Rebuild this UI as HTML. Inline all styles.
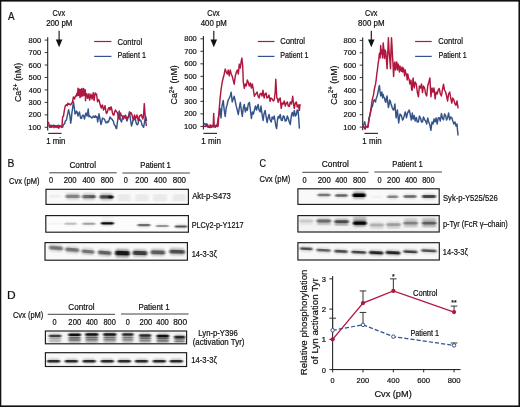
<!DOCTYPE html>
<html><head><meta charset="utf-8"><style>
html,body{margin:0;padding:0;background:#fff;}
svg{display:block;font-family:"Liberation Sans", sans-serif;will-change:transform;}
text{stroke:#111;stroke-width:0.2px;}
</style></head><body>
<svg width="520" height="407" viewBox="0 0 520 407">
<defs><filter id="bl" x="-50%" y="-100%" width="200%" height="300%"><feGaussianBlur stdDeviation="0.8 0.55"/></filter><filter id="bl2" x="-50%" y="-100%" width="200%" height="300%"><feGaussianBlur stdDeviation="1.0 0.9"/></filter></defs>
<rect width="520" height="407" fill="#fff"/>
<rect x="0" y="0" width="520" height="1.6" fill="#111"/>
<rect x="0" y="0" width="1.3" height="407" fill="#111"/>
<rect x="518.45" y="0" width="1.55" height="407" fill="#111"/>
<rect x="0" y="405.4" width="520" height="1.6" fill="#111"/>
<text x="7.93" y="19.60" font-size="10.6" textLength="6.54" lengthAdjust="spacingAndGlyphs" fill="#111">A</text>
<text x="7.40" y="167.10" font-size="10.6" textLength="6.89" lengthAdjust="spacingAndGlyphs" fill="#111">B</text>
<text x="259.39" y="166.90" font-size="10.6" textLength="6.50" lengthAdjust="spacingAndGlyphs" fill="#111">C</text>
<text x="7.07" y="298.70" font-size="10.6" textLength="8.66" lengthAdjust="spacingAndGlyphs" fill="#111">D</text>
<line x1="47.7" y1="37.300000000000004" x2="47.7" y2="130.5" stroke="#222" stroke-width="1.1"/>
<line x1="44.7" y1="40.10" x2="47.7" y2="40.10" stroke="#222" stroke-width="0.9"/>
<text x="28.57" y="42.70" font-size="8.0" textLength="12.52" lengthAdjust="spacingAndGlyphs" fill="#111">800</text>
<line x1="44.7" y1="52.56" x2="47.7" y2="52.56" stroke="#222" stroke-width="0.9"/>
<text x="28.51" y="55.16" font-size="8.0" textLength="12.58" lengthAdjust="spacingAndGlyphs" fill="#111">700</text>
<line x1="44.7" y1="65.01" x2="47.7" y2="65.01" stroke="#222" stroke-width="0.9"/>
<text x="28.52" y="67.61" font-size="8.0" textLength="12.58" lengthAdjust="spacingAndGlyphs" fill="#111">600</text>
<line x1="44.7" y1="77.47" x2="47.7" y2="77.47" stroke="#222" stroke-width="0.9"/>
<text x="28.60" y="80.07" font-size="8.0" textLength="12.49" lengthAdjust="spacingAndGlyphs" fill="#111">500</text>
<line x1="44.7" y1="89.93" x2="47.7" y2="89.93" stroke="#222" stroke-width="0.9"/>
<text x="28.73" y="92.53" font-size="8.0" textLength="12.36" lengthAdjust="spacingAndGlyphs" fill="#111">400</text>
<line x1="44.7" y1="102.39" x2="47.7" y2="102.39" stroke="#222" stroke-width="0.9"/>
<text x="28.62" y="104.99" font-size="8.0" textLength="12.48" lengthAdjust="spacingAndGlyphs" fill="#111">300</text>
<line x1="44.7" y1="114.84" x2="47.7" y2="114.84" stroke="#222" stroke-width="0.9"/>
<text x="28.52" y="117.44" font-size="8.0" textLength="12.57" lengthAdjust="spacingAndGlyphs" fill="#111">200</text>
<line x1="44.7" y1="127.30" x2="47.7" y2="127.30" stroke="#222" stroke-width="0.9"/>
<text x="28.32" y="129.90" font-size="8.0" textLength="12.78" lengthAdjust="spacingAndGlyphs" fill="#111">100</text>
<text transform="translate(21.20,102.10) rotate(-90)" font-size="8.9" fill="#111">Ca<tspan font-size="6.3" dy="-3.3">2+</tspan><tspan dy="3.3"> (nM)</tspan></text>
<line x1="59.1" y1="30.8" x2="59.1" y2="42" stroke="#111" stroke-width="1.1"/>
<path d="M55.800000000000004,39.6 L62.4,39.6 L59.1,47.2 Z" fill="#111"/>
<text x="52.58" y="16.10" font-size="8.2" textLength="12.44" lengthAdjust="spacingAndGlyphs" fill="#111">Cvx</text>
<text x="46.16" y="26.30" font-size="8.2" textLength="26.14" lengthAdjust="spacingAndGlyphs" fill="#111">200 pM</text>
<line x1="48.2" y1="133.4" x2="61.5" y2="133.4" stroke="#333" stroke-width="1.2"/>
<text x="46.15" y="143.80" font-size="8.2" textLength="19.31" lengthAdjust="spacingAndGlyphs" fill="#111">1 min</text>
<line x1="94.2" y1="41.5" x2="111.4" y2="41.5" stroke="#b0173f" stroke-width="1.2"/>
<line x1="94.2" y1="56.4" x2="111.4" y2="56.4" stroke="#34538a" stroke-width="1.2"/>
<text x="117.56" y="45.30" font-size="8.2" textLength="24.70" lengthAdjust="spacingAndGlyphs" fill="#111">Control</text>
<text x="117.46" y="58.20" font-size="8.2" textLength="28.44" lengthAdjust="spacingAndGlyphs" fill="#111">Patient 1</text>
<path d="M48.40,126.00 L49.02,125.81 L49.64,126.67 L50.25,126.98 L50.87,124.97 L51.49,126.91 L52.11,125.72 L52.73,125.95 L53.35,125.08 L53.96,126.52 L54.58,125.46 L55.20,126.96 L55.82,125.42 L56.44,126.16 L57.05,125.74 L57.67,126.29 L58.29,125.21 L58.91,125.17 L59.53,126.64 L60.15,126.66 L60.76,126.17 L61.38,127.09 L62.00,126.00 L62.60,127.30 L63.30,124.89 L64.00,124.00 L64.67,123.75 L65.33,120.81 L66.00,120.50 L66.60,119.46 L67.20,116.00 L67.90,113.17 L68.60,109.70 L69.20,112.63 L69.80,115.00 L70.70,123.20 L71.35,118.82 L72.00,112.00 L72.70,107.55 L73.40,101.60 L74.20,107.00 L75.00,114.00 L75.75,113.25 L76.50,111.00 L77.25,112.34 L78.00,116.00 L78.75,113.66 L79.50,112.00 L80.50,118.00 L81.50,118.50 L82.25,115.67 L83.00,115.00 L83.75,116.20 L84.50,119.00 L85.25,115.26 L86.00,113.00 L87.00,116.00 L87.60,113.43 L88.20,109.00 L88.90,116.80 L89.52,115.83 L90.15,116.27 L90.77,116.78 L91.39,117.71 L92.02,118.01 L92.64,117.34 L93.26,116.06 L93.88,116.92 L94.51,117.34 L95.13,115.63 L95.75,117.27 L96.38,116.46 L97.00,116.80 L97.70,121.90 L98.35,118.08 L99.00,113.80 L100.00,119.00 L101.00,124.60 L101.75,121.74 L102.50,118.00 L103.17,118.84 L103.83,118.86 L104.50,119.20 L105.25,121.24 L106.00,123.00 L106.62,121.94 L107.25,122.44 L107.88,121.20 L108.50,121.90 L109.25,119.40 L110.00,117.00 L110.67,117.76 L111.33,119.05 L112.00,119.00 L112.67,120.39 L113.33,121.08 L114.00,124.00 L114.65,125.22 L115.30,125.53 L115.95,128.08 L116.60,128.60 L117.30,123.01 L118.00,118.00 L118.65,114.19 L119.30,111.00 L119.90,116.56 L120.50,120.00 L121.50,122.00 L122.25,118.72 L123.00,116.00 L123.67,115.94 L124.33,116.27 L125.00,117.00 L125.67,118.28 L126.33,118.61 L127.00,121.00 L127.62,118.82 L128.25,117.50 L128.88,114.26 L129.50,111.80 L130.50,120.00 L131.50,126.00 L132.25,123.63 L133.00,120.00 L133.67,120.16 L134.33,118.89 L135.00,117.00 L135.75,121.13 L136.50,124.00 L137.25,124.81 L138.00,124.00 L139.00,119.00 L139.75,120.33 L140.50,120.00 L141.25,121.86 L142.00,125.00 L142.80,126.10 L143.60,127.30 L144.30,123.29 L145.00,119.48 L145.70,116.50 L146.60,121.00" fill="none" stroke="#34538a" stroke-width="1.45" stroke-linejoin="round"/>
<path d="M48.40,121.90 L49.05,124.66 L49.70,127.00 L50.31,126.45 L50.92,127.36 L51.53,127.25 L52.14,125.81 L52.75,126.83 L53.36,126.67 L53.97,127.62 L54.58,125.76 L55.19,126.01 L55.80,127.04 L56.41,126.71 L57.02,127.50 L57.63,126.50 L58.24,126.09 L58.85,128.30 L59.46,126.23 L60.07,125.94 L60.68,126.34 L61.29,126.52 L61.90,127.00 L62.60,117.20 L63.50,116.00 L64.40,110.03 L65.30,105.70 L65.90,105.21 L66.50,104.50 L67.20,105.74 L67.90,103.24 L68.60,104.30 L69.30,103.87 L70.00,104.45 L70.70,104.93 L71.40,103.60 L72.50,102.00 L73.40,96.90 L74.50,99.00 L75.50,96.00 L76.15,96.25 L76.80,93.50 L77.50,95.48 L78.05,88.16 L78.80,95.51 L79.46,89.22 L79.97,97.62 L80.45,89.51 L81.16,96.62 L81.91,88.37 L82.87,96.14 L83.65,88.50 L84.23,95.20 L85.20,89.82 L85.50,100.71 L86.57,93.43 L87.18,94.84 L87.79,98.38 L88.95,93.69 L89.63,100.08 L90.30,97.22 L90.97,94.14 L92.07,99.11 L93.27,92.75 L94.04,100.54 L95.17,92.86 L95.83,94.57 L96.50,94.00 L97.50,101.70 L98.25,99.51 L99.00,100.00 L100.00,104.00 L100.65,106.26 L101.30,108.00 L101.90,105.52 L102.50,105.00 L103.50,110.00 L104.25,108.65 L105.00,105.70 L106.00,112.00 L106.60,113.51 L107.20,112.40 L107.85,110.31 L108.50,108.00 L109.25,107.53 L110.00,110.00 L110.60,107.19 L111.20,107.00 L111.85,109.75 L112.50,113.00 L113.20,115.04 L113.90,115.00 L114.70,111.71 L115.50,110.00 L116.40,111.71 L117.30,112.40 L117.90,114.92 L118.50,118.00 L119.30,119.20 L119.90,115.40 L120.50,113.00 L121.25,115.11 L122.00,116.00 L122.75,116.92 L123.50,119.00 L124.13,117.32 L124.77,117.20 L125.40,115.10 L126.20,117.04 L127.00,119.00 L128.00,117.00 L128.75,116.35 L129.50,114.00 L130.17,113.85 L130.83,112.58 L131.50,113.40 L132.25,116.03 L133.00,119.00 L133.75,118.12 L134.50,115.00 L135.50,118.80 L136.25,117.09 L137.00,115.00 L138.20,120.50 L138.80,120.39 L139.40,116.00 L140.00,116.00 L140.80,114.92 L141.60,114.80 L142.20,117.71 L142.80,119.00 L143.50,116.00 L144.30,103.60 L145.30,118.00 L146.40,126.00" fill="none" stroke="#b0173f" stroke-width="1.45" stroke-linejoin="round"/>
<line x1="203.4" y1="36.0" x2="203.4" y2="129.6" stroke="#222" stroke-width="1.1"/>
<line x1="200.4" y1="38.80" x2="203.4" y2="38.80" stroke="#222" stroke-width="0.9"/>
<text x="184.27" y="41.40" font-size="8.0" textLength="12.52" lengthAdjust="spacingAndGlyphs" fill="#111">800</text>
<line x1="200.4" y1="51.31" x2="203.4" y2="51.31" stroke="#222" stroke-width="0.9"/>
<text x="184.21" y="53.91" font-size="8.0" textLength="12.58" lengthAdjust="spacingAndGlyphs" fill="#111">700</text>
<line x1="200.4" y1="63.83" x2="203.4" y2="63.83" stroke="#222" stroke-width="0.9"/>
<text x="184.22" y="66.43" font-size="8.0" textLength="12.58" lengthAdjust="spacingAndGlyphs" fill="#111">600</text>
<line x1="200.4" y1="76.34" x2="203.4" y2="76.34" stroke="#222" stroke-width="0.9"/>
<text x="184.30" y="78.94" font-size="8.0" textLength="12.49" lengthAdjust="spacingAndGlyphs" fill="#111">500</text>
<line x1="200.4" y1="88.86" x2="203.4" y2="88.86" stroke="#222" stroke-width="0.9"/>
<text x="184.43" y="91.46" font-size="8.0" textLength="12.36" lengthAdjust="spacingAndGlyphs" fill="#111">400</text>
<line x1="200.4" y1="101.37" x2="203.4" y2="101.37" stroke="#222" stroke-width="0.9"/>
<text x="184.32" y="103.97" font-size="8.0" textLength="12.48" lengthAdjust="spacingAndGlyphs" fill="#111">300</text>
<line x1="200.4" y1="113.89" x2="203.4" y2="113.89" stroke="#222" stroke-width="0.9"/>
<text x="184.22" y="116.49" font-size="8.0" textLength="12.57" lengthAdjust="spacingAndGlyphs" fill="#111">200</text>
<line x1="200.4" y1="126.40" x2="203.4" y2="126.40" stroke="#222" stroke-width="0.9"/>
<text x="184.02" y="129.00" font-size="8.0" textLength="12.78" lengthAdjust="spacingAndGlyphs" fill="#111">100</text>
<text transform="translate(177.20,104.50) rotate(-90)" font-size="8.9" fill="#111">Ca<tspan font-size="6.3" dy="-3.3">2+</tspan><tspan dy="3.3"> (nM)</tspan></text>
<line x1="213.8" y1="30.8" x2="213.8" y2="42" stroke="#111" stroke-width="1.1"/>
<path d="M210.5,39.6 L217.10000000000002,39.6 L213.8,47.2 Z" fill="#111"/>
<text x="207.28" y="16.20" font-size="8.2" textLength="12.44" lengthAdjust="spacingAndGlyphs" fill="#111">Cvx</text>
<text x="200.77" y="26.10" font-size="8.2" textLength="26.12" lengthAdjust="spacingAndGlyphs" fill="#111">400 pM</text>
<line x1="203.4" y1="133.4" x2="217" y2="133.4" stroke="#333" stroke-width="1.2"/>
<text x="201.24" y="143.80" font-size="8.2" textLength="19.74" lengthAdjust="spacingAndGlyphs" fill="#111">1 min</text>
<line x1="257.8" y1="41.5" x2="274.5" y2="41.5" stroke="#b0173f" stroke-width="1.2"/>
<line x1="257.8" y1="56.4" x2="274.5" y2="56.4" stroke="#34538a" stroke-width="1.2"/>
<text x="280.26" y="44.20" font-size="8.2" textLength="24.81" lengthAdjust="spacingAndGlyphs" fill="#111">Control</text>
<text x="280.37" y="58.20" font-size="8.2" textLength="28.13" lengthAdjust="spacingAndGlyphs" fill="#111">Patient 1</text>
<path d="M203.50,124.50 L204.50,123.50 L205.50,125.00 L206.50,123.80 L207.50,124.60 L208.00,126.50 L208.60,126.98 L209.20,126.66 L209.80,126.93 L210.40,127.48 L211.00,126.98 L211.60,126.62 L212.20,126.66 L212.80,126.93 L213.40,126.04 L214.00,126.94 L214.60,126.80 L215.20,127.24 L215.80,126.45 L216.40,125.27 L217.00,126.50 L218.10,118.50 L219.10,114.00 L220.10,108.40 L221.00,118.00 L222.00,106.00 L223.20,100.40 L224.20,110.00 L225.20,116.50 L226.20,108.00 L227.20,104.40 L228.20,100.00 L229.20,98.30 L230.20,96.00 L231.20,92.30 L232.20,102.00 L233.20,99.00 L234.20,96.30 L235.20,101.00 L236.30,106.40 L237.30,110.00 L238.30,114.50 L239.30,108.00 L240.30,102.40 L241.30,110.00 L242.30,116.50 L243.30,108.00 L244.30,104.40 L245.30,112.00 L246.30,108.00 L247.30,110.40 L248.30,104.00 L249.40,102.40 L250.40,110.00 L251.40,118.50 L252.40,112.00 L253.40,114.00 L254.40,110.00 L255.50,106.00 L256.50,110.00 L257.30,107.30 L258.10,104.40 L259.00,110.00 L260.10,112.00 L261.00,106.00 L262.00,114.00 L263.10,120.50 L264.00,114.00 L265.10,110.40 L266.00,116.00 L267.10,122.50 L268.00,118.00 L269.10,114.50 L270.10,120.00 L271.20,122.00 L272.20,117.00 L273.20,119.00 L274.20,116.00 L275.20,122.00 L275.90,126.23 L276.60,128.60 L277.50,120.00 L278.20,116.50 L279.20,118.00 L280.20,114.50 L281.20,120.00 L282.20,120.50 L283.20,116.00 L284.20,116.50 L285.20,121.00 L286.30,120.50 L287.30,116.00 L288.30,118.50 L289.30,122.00 L290.30,124.50 L291.30,116.00 L292.30,112.40 L293.30,116.00 L294.30,110.40 L295.30,116.00 L296.30,114.50 L297.20,110.00 L298.00,110.40 L298.70,118.00 L299.40,128.60" fill="none" stroke="#34538a" stroke-width="1.45" stroke-linejoin="round"/>
<path d="M204.00,126.10 L204.61,126.52 L205.23,126.53 L205.84,125.77 L206.45,125.67 L207.07,126.76 L207.68,124.83 L208.29,127.20 L208.91,127.23 L209.52,127.49 L210.13,125.01 L210.75,124.95 L211.36,127.28 L211.97,125.80 L212.59,125.41 L213.20,126.10 L213.70,113.50 L214.20,126.10 L214.85,125.75 L215.50,126.58 L216.15,125.08 L216.80,126.06 L217.45,126.58 L218.10,126.10 L219.10,110.40 L220.10,98.30 L221.00,90.00 L222.20,82.20 L223.20,78.00 L224.20,74.20 L225.20,69.10 L226.20,72.00 L227.20,74.00 L228.20,70.10 L229.20,76.00 L230.20,70.00 L231.20,74.00 L232.20,76.20 L233.20,80.00 L234.20,84.20 L235.30,76.00 L236.30,72.20 L237.30,70.00 L238.30,74.00 L239.30,64.10 L240.30,68.00 L241.10,62.00 L241.90,58.10 L242.70,66.00 L243.30,82.20 L244.30,88.30 L245.30,84.00 L246.30,86.00 L247.30,80.00 L248.30,82.20 L249.30,86.00 L250.40,83.00 L251.40,88.00 L252.40,84.00 L253.40,90.00 L254.40,96.30 L255.50,94.00 L256.25,93.66 L257.00,92.00 L258.00,96.00 L259.00,98.00 L260.00,94.00 L261.00,93.30 L262.00,96.00 L263.00,90.30 L264.10,98.00 L265.00,94.00 L266.10,93.00 L267.00,98.00 L268.10,97.30 L269.00,95.00 L270.10,101.40 L271.00,98.00 L272.20,99.00 L273.20,101.00 L274.20,100.00 L275.20,92.00 L275.80,79.20 L276.80,98.00 L277.50,98.74 L278.20,102.40 L279.20,99.00 L280.20,98.00 L281.20,108.40 L282.20,103.00 L283.20,104.00 L284.20,101.00 L285.30,106.00 L286.30,103.00 L287.30,102.00 L288.30,106.00 L289.30,106.40 L290.30,102.00 L291.30,104.00 L292.00,101.08 L292.70,96.30 L293.50,104.00 L294.30,108.40 L295.30,103.00 L296.30,102.00 L297.30,107.00 L298.30,105.00 L299.40,110.40 L300.00,104.00" fill="none" stroke="#b0173f" stroke-width="1.45" stroke-linejoin="round"/>
<line x1="362.7" y1="37.6" x2="362.7" y2="130.29999999999998" stroke="#222" stroke-width="1.1"/>
<line x1="359.7" y1="40.40" x2="362.7" y2="40.40" stroke="#222" stroke-width="0.9"/>
<text x="343.57" y="43.00" font-size="8.0" textLength="12.52" lengthAdjust="spacingAndGlyphs" fill="#111">800</text>
<line x1="359.7" y1="52.79" x2="362.7" y2="52.79" stroke="#222" stroke-width="0.9"/>
<text x="343.51" y="55.39" font-size="8.0" textLength="12.58" lengthAdjust="spacingAndGlyphs" fill="#111">700</text>
<line x1="359.7" y1="65.17" x2="362.7" y2="65.17" stroke="#222" stroke-width="0.9"/>
<text x="343.52" y="67.77" font-size="8.0" textLength="12.58" lengthAdjust="spacingAndGlyphs" fill="#111">600</text>
<line x1="359.7" y1="77.56" x2="362.7" y2="77.56" stroke="#222" stroke-width="0.9"/>
<text x="343.60" y="80.16" font-size="8.0" textLength="12.49" lengthAdjust="spacingAndGlyphs" fill="#111">500</text>
<line x1="359.7" y1="89.94" x2="362.7" y2="89.94" stroke="#222" stroke-width="0.9"/>
<text x="343.73" y="92.54" font-size="8.0" textLength="12.36" lengthAdjust="spacingAndGlyphs" fill="#111">400</text>
<line x1="359.7" y1="102.33" x2="362.7" y2="102.33" stroke="#222" stroke-width="0.9"/>
<text x="343.62" y="104.93" font-size="8.0" textLength="12.48" lengthAdjust="spacingAndGlyphs" fill="#111">300</text>
<line x1="359.7" y1="114.71" x2="362.7" y2="114.71" stroke="#222" stroke-width="0.9"/>
<text x="343.52" y="117.31" font-size="8.0" textLength="12.57" lengthAdjust="spacingAndGlyphs" fill="#111">200</text>
<line x1="359.7" y1="127.10" x2="362.7" y2="127.10" stroke="#222" stroke-width="0.9"/>
<text x="343.32" y="129.70" font-size="8.0" textLength="12.78" lengthAdjust="spacingAndGlyphs" fill="#111">100</text>
<text transform="translate(336.60,104.70) rotate(-90)" font-size="8.9" fill="#111">Ca<tspan font-size="6.3" dy="-3.3">2+</tspan><tspan dy="3.3"> (nM)</tspan></text>
<line x1="371.3" y1="30.8" x2="371.3" y2="42" stroke="#111" stroke-width="1.1"/>
<path d="M368.0,39.6 L374.6,39.6 L371.3,47.2 Z" fill="#111"/>
<text x="364.99" y="16.10" font-size="8.2" textLength="12.34" lengthAdjust="spacingAndGlyphs" fill="#111">Cvx</text>
<text x="358.11" y="26.10" font-size="8.2" textLength="26.39" lengthAdjust="spacingAndGlyphs" fill="#111">800 pM</text>
<line x1="364.4" y1="133.4" x2="378" y2="133.4" stroke="#333" stroke-width="1.2"/>
<text x="362.35" y="143.80" font-size="8.2" textLength="19.21" lengthAdjust="spacingAndGlyphs" fill="#111">1 min</text>
<line x1="415.1" y1="41.5" x2="431.7" y2="41.5" stroke="#b0173f" stroke-width="1.2"/>
<line x1="415.1" y1="56.4" x2="431.7" y2="56.4" stroke="#34538a" stroke-width="1.2"/>
<text x="438.36" y="44.00" font-size="8.2" textLength="24.60" lengthAdjust="spacingAndGlyphs" fill="#111">Control</text>
<text x="438.47" y="58.20" font-size="8.2" textLength="28.13" lengthAdjust="spacingAndGlyphs" fill="#111">Patient 1</text>
<path d="M362.70,126.80 L363.90,124.00 L364.60,121.70 L365.20,124.00 L366.00,126.80 L366.67,126.63 L367.33,126.63 L368.00,126.80 L369.00,117.80 L369.65,116.06 L370.30,114.00 L370.95,110.18 L371.60,107.50 L372.25,106.76 L372.90,104.00 L373.55,101.10 L374.20,99.70 L374.85,100.96 L375.50,102.00 L376.15,98.69 L376.80,97.10 L377.45,94.85 L378.10,92.00 L378.80,88.00 L379.40,85.50 L380.10,92.00 L380.70,96.00 L381.90,92.00 L382.60,98.00 L383.20,94.50 L383.85,97.29 L384.50,98.00 L385.15,101.14 L385.80,102.30 L386.45,98.20 L387.10,96.00 L387.75,102.07 L388.40,107.50 L389.05,104.77 L389.70,100.00 L390.35,101.22 L391.00,104.00 L391.65,105.78 L392.30,108.00 L392.95,109.55 L393.60,110.00 L394.25,107.62 L394.90,104.00 L395.50,110.77 L396.10,117.80 L396.75,114.26 L397.40,110.00 L398.05,116.94 L398.70,123.00 L399.35,118.12 L400.00,114.00 L400.65,115.00 L401.30,115.20 L401.95,117.80 L402.60,120.00 L403.25,119.01 L403.90,117.00 L404.55,114.53 L405.20,112.00 L405.85,114.47 L406.50,117.80 L407.15,114.73 L407.80,112.00 L408.45,112.10 L409.10,110.00 L409.75,111.99 L410.40,115.60 L411.40,120.00 L412.30,113.00 L413.20,119.00 L414.20,115.60 L415.20,121.00 L416.30,117.50 L417.30,122.00 L418.40,121.90 L419.40,116.00 L420.50,118.00 L421.50,122.00 L422.50,121.90 L423.50,117.00 L424.60,119.80 L425.60,121.00 L426.70,124.00 L427.70,118.00 L428.80,121.90 L429.90,125.00 L430.90,130.30 L432.00,122.00 L433.00,124.00 L434.00,119.00 L435.10,121.90 L436.10,118.00 L437.20,124.00 L438.20,118.00 L439.30,117.70 L440.30,121.00 L441.40,113.50 L442.40,118.00 L443.50,119.80 L444.50,114.00 L445.60,115.60 L446.60,120.00 L447.60,117.70 L448.60,113.00 L449.70,119.80 L450.70,117.00 L451.80,117.70 L452.80,121.00 L453.90,124.00 L455.00,122.00 L456.00,126.10 L457.00,124.00 L457.50,130.00 L458.10,135.50" fill="none" stroke="#34538a" stroke-width="1.45" stroke-linejoin="round"/>
<path d="M362.70,127.60 L363.32,126.54 L363.95,126.14 L364.57,128.66 L365.20,129.07 L365.82,126.81 L366.45,126.90 L367.07,126.70 L367.70,127.60 L368.35,124.10 L369.00,120.00 L369.65,116.26 L370.30,112.60 L370.95,109.26 L371.60,104.00 L372.25,99.68 L372.90,97.10 L373.55,94.68 L374.20,90.00 L374.85,86.99 L375.50,84.20 L376.15,80.02 L376.80,74.00 L377.45,69.71 L378.10,63.60 L378.75,59.63 L379.40,53.20 L380.10,58.00 L380.70,45.50 L381.30,54.00 L381.90,50.00 L382.60,58.00 L383.20,42.90 L383.90,50.00 L384.50,58.40 L385.10,50.00 L385.80,52.00 L386.40,60.00 L387.10,68.70 L387.80,52.00 L388.40,37.70 L389.00,50.00 L389.70,58.00 L390.50,68.70 L391.00,50.00 L391.50,37.70 L392.00,46.00 L392.50,55.80 L393.00,64.00 L393.60,76.50 L394.30,64.00 L394.90,62.00 L395.50,70.00 L396.10,66.10 L396.80,62.00 L397.50,70.00 L398.10,64.00 L398.70,66.00 L399.40,72.00 L400.00,66.00 L400.70,70.00 L401.30,71.30 L402.00,67.00 L402.60,72.00 L403.30,68.00 L403.90,70.00 L404.60,76.00 L405.20,70.00 L405.90,74.00 L406.50,73.90 L407.20,80.00 L407.80,74.00 L408.50,78.00 L409.10,79.10 L409.80,84.00 L410.40,82.00 L411.00,80.10 L411.60,89.40 L412.10,90.50 L413.10,78.00 L414.20,88.00 L415.20,82.00 L416.30,84.30 L417.30,92.00 L418.40,96.80 L419.40,86.00 L420.50,88.00 L421.50,84.00 L422.50,92.60 L423.50,86.00 L424.60,88.00 L425.60,94.00 L426.70,96.00 L427.70,86.00 L428.80,82.20 L429.90,78.00 L430.90,96.80 L432.00,88.00 L433.00,92.00 L434.00,88.00 L435.10,98.90 L436.10,92.00 L437.20,94.00 L438.20,90.00 L439.30,88.50 L440.30,94.00 L441.40,96.00 L442.40,90.00 L443.50,84.30 L444.50,90.00 L445.60,92.00 L446.60,96.00 L447.60,101.00 L448.60,94.00 L449.70,92.00 L450.70,98.00 L451.80,103.10 L452.80,98.00 L453.90,100.00 L455.00,104.00 L456.00,105.20 L457.00,101.00 L458.10,108.30" fill="none" stroke="#b0173f" stroke-width="1.45" stroke-linejoin="round"/>
<text x="69.43" y="168.00" font-size="8.2" textLength="26.57" lengthAdjust="spacingAndGlyphs" fill="#111">Control</text>
<text x="140.32" y="168.20" font-size="8.2" textLength="30.41" lengthAdjust="spacingAndGlyphs" fill="#111">Patient 1</text>
<line x1="49.3" y1="172.8" x2="116.7" y2="172.8" stroke="#444" stroke-width="1"/>
<line x1="122.4" y1="173.0" x2="189.9" y2="173.0" stroke="#444" stroke-width="1"/>
<text x="9.07" y="183.50" font-size="8.2" textLength="30.34" lengthAdjust="spacingAndGlyphs" fill="#111">Cvx (pM)</text>
<text x="49.00" y="183.30" font-size="8.2" textLength="4.10" lengthAdjust="spacingAndGlyphs" fill="#111">0</text>
<text x="63.66" y="183.30" font-size="8.2" textLength="12.89" lengthAdjust="spacingAndGlyphs" fill="#111">200</text>
<text x="82.38" y="183.30" font-size="8.2" textLength="12.67" lengthAdjust="spacingAndGlyphs" fill="#111">400</text>
<text x="100.72" y="183.30" font-size="8.2" textLength="12.83" lengthAdjust="spacingAndGlyphs" fill="#111">800</text>
<text x="123.80" y="183.30" font-size="8.2" textLength="4.10" lengthAdjust="spacingAndGlyphs" fill="#111">0</text>
<text x="135.36" y="183.30" font-size="8.2" textLength="13.00" lengthAdjust="spacingAndGlyphs" fill="#111">200</text>
<text x="153.87" y="183.30" font-size="8.2" textLength="12.88" lengthAdjust="spacingAndGlyphs" fill="#111">400</text>
<text x="172.70" y="183.30" font-size="8.2" textLength="13.36" lengthAdjust="spacingAndGlyphs" fill="#111">800</text>
<rect x="45.50" y="189.00" width="142.90" height="15.80" fill="#f9f9f9"/>
<rect x="49.30" y="193.80" width="11.40" height="5.00" rx="2.00" fill="#000" opacity="0.009" filter="url(#bl2)"/>
<rect x="49.00" y="195.05" width="12.00" height="2.50" rx="1.25" fill="#000" opacity="0.035" filter="url(#bl)"/>
<rect x="65.75" y="193.00" width="13.90" height="6.80" rx="2.00" fill="#000" opacity="0.162" filter="url(#bl2)"/>
<rect x="65.45" y="194.70" width="14.50" height="3.40" rx="1.50" fill="#000" opacity="0.36" filter="url(#bl)"/>
<rect x="82.45" y="193.20" width="12.90" height="6.80" rx="2.00" fill="#000" opacity="0.203" filter="url(#bl2)"/>
<rect x="82.15" y="194.90" width="13.50" height="3.40" rx="1.50" fill="#000" opacity="0.45" filter="url(#bl)"/>
<rect x="89.50" y="195.40" width="6.00" height="2.60" rx="1.30" fill="#000" opacity="0.2" filter="url(#bl)"/>
<rect x="99.95" y="193.50" width="12.90" height="6.80" rx="2.00" fill="#000" opacity="0.270" filter="url(#bl2)"/>
<rect x="99.65" y="195.20" width="13.50" height="3.40" rx="1.50" fill="#000" opacity="0.6" filter="url(#bl)"/>
<rect x="108.30" y="195.70" width="5.00" height="2.80" rx="1.40" fill="#000" opacity="0.85" filter="url(#bl)"/>
<rect x="117.25" y="194.30" width="13.50" height="7.00" rx="1.50" fill="#000" opacity="0.055" filter="url(#bl)"/>
<rect x="135.25" y="194.30" width="13.50" height="7.00" rx="1.50" fill="#000" opacity="0.055" filter="url(#bl)"/>
<rect x="153.25" y="194.30" width="13.50" height="7.00" rx="1.50" fill="#000" opacity="0.055" filter="url(#bl)"/>
<rect x="172.55" y="194.30" width="13.50" height="7.00" rx="1.50" fill="#000" opacity="0.055" filter="url(#bl)"/>
<rect x="46.00" y="189.30" width="142.40" height="15.10" fill="none" stroke="#1a1a1a" stroke-width="1.15"/>
<rect x="45.50" y="215.40" width="142.90" height="17.10" fill="#fcfcfc"/>
<rect x="49.00" y="222.70" width="12.00" height="2.00" rx="1.00" fill="#000" opacity="0.03" filter="url(#bl)"/>
<rect x="64.55" y="221.70" width="11.90" height="4.00" rx="2.00" fill="#000" opacity="0.050" filter="url(#bl2)"/>
<rect x="64.25" y="222.70" width="12.50" height="2.00" rx="1.00" fill="#000" opacity="0.2" filter="url(#bl)"/>
<rect x="82.70" y="221.70" width="12.40" height="4.00" rx="2.00" fill="#000" opacity="0.075" filter="url(#bl2)"/>
<rect x="82.40" y="222.70" width="13.00" height="2.00" rx="1.00" fill="#000" opacity="0.3" filter="url(#bl)"/>
<rect x="101.20" y="221.10" width="12.40" height="4.40" rx="2.00" fill="#000" opacity="0.237" filter="url(#bl2)"/>
<rect x="100.90" y="222.20" width="13.00" height="2.20" rx="1.10" fill="#000" opacity="0.95" filter="url(#bl)"/>
<rect x="100.90" y="216.75" width="13.00" height="1.50" rx="0.75" fill="#000" opacity="0.05" filter="url(#bl)"/>
<rect x="137.70" y="223.00" width="12.40" height="4.40" rx="2.00" fill="#000" opacity="0.125" filter="url(#bl2)"/>
<rect x="137.40" y="224.10" width="13.00" height="2.20" rx="1.10" fill="#000" opacity="0.5" filter="url(#bl)"/>
<rect x="156.20" y="224.00" width="12.40" height="4.00" rx="2.00" fill="#000" opacity="0.087" filter="url(#bl2)"/>
<rect x="155.90" y="225.00" width="13.00" height="2.00" rx="1.00" fill="#000" opacity="0.35" filter="url(#bl)"/>
<rect x="175.05" y="224.30" width="11.90" height="4.40" rx="2.00" fill="#000" opacity="0.150" filter="url(#bl2)"/>
<rect x="174.75" y="225.40" width="12.50" height="2.20" rx="1.10" fill="#000" opacity="0.6" filter="url(#bl)"/>
<rect x="45.80" y="215.60" width="142.60" height="16.60" fill="none" stroke="#1a1a1a" stroke-width="1.15"/>
<rect x="45.10" y="242.30" width="142.30" height="18.50" fill="#f9f9f9"/>
<rect x="49.30" y="244.60" width="13.40" height="6.80" rx="2.00" fill="#000" opacity="0.189" filter="url(#bl2)" transform="rotate(5 56.00 248.00)"/>
<rect x="49.00" y="246.30" width="14.00" height="3.40" rx="1.50" fill="#000" opacity="0.42" filter="url(#bl)" transform="rotate(5 56.00 248.00)"/>
<rect x="65.50" y="246.40" width="13.40" height="6.80" rx="2.00" fill="#000" opacity="0.189" filter="url(#bl2)" transform="rotate(5 72.20 249.80)"/>
<rect x="65.20" y="248.10" width="14.00" height="3.40" rx="1.50" fill="#000" opacity="0.42" filter="url(#bl)" transform="rotate(5 72.20 249.80)"/>
<rect x="81.80" y="248.20" width="12.40" height="6.80" rx="2.00" fill="#000" opacity="0.189" filter="url(#bl2)" transform="rotate(5 88.00 251.60)"/>
<rect x="81.50" y="249.90" width="13.00" height="3.40" rx="1.50" fill="#000" opacity="0.42" filter="url(#bl)" transform="rotate(5 88.00 251.60)"/>
<rect x="98.25" y="249.40" width="12.90" height="6.80" rx="2.00" fill="#000" opacity="0.225" filter="url(#bl2)" transform="rotate(5 104.70 252.80)"/>
<rect x="97.95" y="251.10" width="13.50" height="3.40" rx="1.50" fill="#000" opacity="0.5" filter="url(#bl)" transform="rotate(5 104.70 252.80)"/>
<rect x="115.45" y="249.00" width="13.90" height="8.40" rx="2.00" fill="#000" opacity="0.383" filter="url(#bl2)" transform="rotate(2 122.40 253.20)"/>
<rect x="115.15" y="251.10" width="14.50" height="4.20" rx="1.50" fill="#000" opacity="0.85" filter="url(#bl)" transform="rotate(2 122.40 253.20)"/>
<rect x="133.05" y="249.20" width="13.90" height="7.60" rx="2.00" fill="#000" opacity="0.293" filter="url(#bl2)" transform="rotate(2 140.00 253.00)"/>
<rect x="132.75" y="251.10" width="14.50" height="3.80" rx="1.50" fill="#000" opacity="0.65" filter="url(#bl)" transform="rotate(2 140.00 253.00)"/>
<rect x="150.95" y="248.80" width="13.90" height="7.20" rx="2.00" fill="#000" opacity="0.234" filter="url(#bl2)" transform="rotate(2 157.90 252.40)"/>
<rect x="150.65" y="250.60" width="14.50" height="3.60" rx="1.50" fill="#000" opacity="0.52" filter="url(#bl)" transform="rotate(2 157.90 252.40)"/>
<rect x="169.75" y="248.10" width="14.90" height="7.20" rx="2.00" fill="#000" opacity="0.261" filter="url(#bl2)" transform="rotate(2 177.20 251.70)"/>
<rect x="169.45" y="249.90" width="15.50" height="3.60" rx="1.50" fill="#000" opacity="0.58" filter="url(#bl)" transform="rotate(2 177.20 251.70)"/>
<rect x="45.00" y="242.60" width="142.40" height="17.60" fill="none" stroke="#1a1a1a" stroke-width="1.15"/>
<text x="192.23" y="198.80" font-size="8.2" textLength="38.55" lengthAdjust="spacingAndGlyphs" fill="#111">Akt-p-S473</text>
<text x="191.65" y="227.90" font-size="8.2" textLength="51.97" lengthAdjust="spacingAndGlyphs" fill="#111">PLC&#947;2-p-Y1217</text>
<text x="191.67" y="256.50" font-size="8.2" textLength="25.22" lengthAdjust="spacingAndGlyphs" fill="#111">14-3-3&#950;</text>
<text x="321.72" y="167.30" font-size="8.2" textLength="27.09" lengthAdjust="spacingAndGlyphs" fill="#111">Control</text>
<text x="392.32" y="167.20" font-size="8.2" textLength="30.41" lengthAdjust="spacingAndGlyphs" fill="#111">Patient 1</text>
<line x1="302.3" y1="172.3" x2="368.5" y2="172.3" stroke="#444" stroke-width="1"/>
<line x1="374.4" y1="172.0" x2="441.9" y2="172.0" stroke="#444" stroke-width="1"/>
<text x="259.46" y="182.30" font-size="8.2" textLength="30.86" lengthAdjust="spacingAndGlyphs" fill="#111">Cvx (pM)</text>
<text x="302.55" y="182.50" font-size="8.2" textLength="4.10" lengthAdjust="spacingAndGlyphs" fill="#111">0</text>
<text x="317.66" y="182.50" font-size="8.2" textLength="13.10" lengthAdjust="spacingAndGlyphs" fill="#111">200</text>
<text x="335.18" y="182.50" font-size="8.2" textLength="12.15" lengthAdjust="spacingAndGlyphs" fill="#111">400</text>
<text x="353.02" y="182.50" font-size="8.2" textLength="12.83" lengthAdjust="spacingAndGlyphs" fill="#111">800</text>
<text x="377.45" y="182.50" font-size="8.2" textLength="4.10" lengthAdjust="spacingAndGlyphs" fill="#111">0</text>
<text x="387.06" y="182.50" font-size="8.2" textLength="13.00" lengthAdjust="spacingAndGlyphs" fill="#111">200</text>
<text x="404.88" y="182.50" font-size="8.2" textLength="12.15" lengthAdjust="spacingAndGlyphs" fill="#111">400</text>
<text x="422.23" y="182.50" font-size="8.2" textLength="12.41" lengthAdjust="spacingAndGlyphs" fill="#111">800</text>
<rect x="297.70" y="188.70" width="141.80" height="16.30" fill="#f9f9f9"/>
<rect x="317.80" y="192.40" width="12.40" height="5.20" rx="2.00" fill="#000" opacity="0.113" filter="url(#bl2)"/>
<rect x="317.50" y="193.70" width="13.00" height="2.60" rx="1.30" fill="#000" opacity="0.45" filter="url(#bl)"/>
<rect x="335.45" y="192.90" width="11.90" height="5.20" rx="2.00" fill="#000" opacity="0.130" filter="url(#bl2)"/>
<rect x="335.15" y="194.20" width="12.50" height="2.60" rx="1.30" fill="#000" opacity="0.52" filter="url(#bl)"/>
<rect x="352.90" y="191.60" width="12.40" height="7.20" rx="2.00" fill="#000" opacity="0.350" filter="url(#bl2)"/>
<rect x="352.60" y="193.40" width="13.00" height="3.60" rx="1.50" fill="#000" opacity="1.0" filter="url(#bl)"/>
<rect x="371.00" y="195.55" width="11.00" height="2.50" rx="1.25" fill="#000" opacity="0.03" filter="url(#bl)"/>
<rect x="387.40" y="194.20" width="10.40" height="5.20" rx="2.00" fill="#000" opacity="0.100" filter="url(#bl2)"/>
<rect x="387.10" y="195.50" width="11.00" height="2.60" rx="1.30" fill="#000" opacity="0.4" filter="url(#bl)"/>
<rect x="403.80" y="193.90" width="12.40" height="5.20" rx="2.00" fill="#000" opacity="0.130" filter="url(#bl2)"/>
<rect x="403.50" y="195.20" width="13.00" height="2.60" rx="1.30" fill="#000" opacity="0.52" filter="url(#bl)"/>
<rect x="422.30" y="193.70" width="13.40" height="5.60" rx="2.00" fill="#000" opacity="0.165" filter="url(#bl2)"/>
<rect x="422.00" y="195.10" width="14.00" height="2.80" rx="1.40" fill="#000" opacity="0.66" filter="url(#bl)"/>
<rect x="297.90" y="188.80" width="141.30" height="15.60" fill="none" stroke="#1a1a1a" stroke-width="1.15"/>
<rect x="297.70" y="215.20" width="141.80" height="17.30" fill="#f3f3f3"/>
<rect x="299.25" y="218.20" width="13.90" height="5.60" rx="2.00" fill="#000" opacity="0.055" filter="url(#bl2)"/>
<rect x="298.95" y="219.60" width="14.50" height="2.80" rx="1.40" fill="#000" opacity="0.1" filter="url(#bl)"/>
<rect x="298.95" y="222.50" width="14.50" height="3.00" rx="1.50" fill="#000" opacity="0.025" filter="url(#bl)"/>
<rect x="316.85" y="218.20" width="13.90" height="5.60" rx="2.00" fill="#000" opacity="0.231" filter="url(#bl2)"/>
<rect x="316.55" y="219.60" width="14.50" height="2.80" rx="1.40" fill="#000" opacity="0.42" filter="url(#bl)"/>
<rect x="316.55" y="222.50" width="14.50" height="3.00" rx="1.50" fill="#000" opacity="0.105" filter="url(#bl)"/>
<rect x="334.65" y="218.80" width="13.90" height="5.60" rx="2.00" fill="#000" opacity="0.303" filter="url(#bl2)"/>
<rect x="334.35" y="220.20" width="14.50" height="2.80" rx="1.40" fill="#000" opacity="0.55" filter="url(#bl)"/>
<rect x="334.35" y="223.10" width="14.50" height="3.00" rx="1.50" fill="#000" opacity="0.1375" filter="url(#bl)"/>
<rect x="369.85" y="222.20" width="13.90" height="5.60" rx="2.00" fill="#000" opacity="0.099" filter="url(#bl2)"/>
<rect x="369.55" y="223.60" width="14.50" height="2.80" rx="1.40" fill="#000" opacity="0.18" filter="url(#bl)"/>
<rect x="369.55" y="226.50" width="14.50" height="3.00" rx="1.50" fill="#000" opacity="0.045" filter="url(#bl)"/>
<rect x="386.55" y="221.80" width="13.90" height="5.60" rx="2.00" fill="#000" opacity="0.132" filter="url(#bl2)"/>
<rect x="386.25" y="223.20" width="14.50" height="2.80" rx="1.40" fill="#000" opacity="0.24" filter="url(#bl)"/>
<rect x="386.25" y="226.10" width="14.50" height="3.00" rx="1.50" fill="#000" opacity="0.06" filter="url(#bl)"/>
<rect x="403.75" y="220.40" width="13.90" height="5.60" rx="2.00" fill="#000" opacity="0.187" filter="url(#bl2)"/>
<rect x="403.45" y="221.80" width="14.50" height="2.80" rx="1.40" fill="#000" opacity="0.34" filter="url(#bl)"/>
<rect x="403.45" y="224.70" width="14.50" height="3.00" rx="1.50" fill="#000" opacity="0.085" filter="url(#bl)"/>
<rect x="422.25" y="220.40" width="13.90" height="5.60" rx="2.00" fill="#000" opacity="0.264" filter="url(#bl2)"/>
<rect x="421.95" y="221.80" width="14.50" height="2.80" rx="1.40" fill="#000" opacity="0.48" filter="url(#bl)"/>
<rect x="421.95" y="224.70" width="14.50" height="3.00" rx="1.50" fill="#000" opacity="0.12" filter="url(#bl)"/>
<rect x="353.35" y="220.00" width="12.90" height="6.40" rx="2.00" fill="#000" opacity="0.427" filter="url(#bl2)"/>
<rect x="353.05" y="221.60" width="13.50" height="3.20" rx="1.50" fill="#000" opacity="0.95" filter="url(#bl)"/>
<rect x="353.05" y="216.50" width="13.50" height="5.00" rx="1.50" fill="#000" opacity="0.2" filter="url(#bl)"/>
<rect x="403.95" y="217.50" width="13.50" height="4.00" rx="1.50" fill="#000" opacity="0.1" filter="url(#bl)"/>
<rect x="421.95" y="217.50" width="14.50" height="4.00" rx="1.50" fill="#000" opacity="0.15" filter="url(#bl)"/>
<rect x="297.90" y="215.60" width="141.30" height="16.40" fill="none" stroke="#1a1a1a" stroke-width="1.15"/>
<rect x="297.80" y="242.30" width="140.40" height="18.50" fill="#f8f8f8"/>
<rect x="300.25" y="246.20" width="12.10" height="5.20" rx="2.00" fill="#000" opacity="0.155" filter="url(#bl2)" transform="rotate(3 306.30 248.80)"/>
<rect x="299.95" y="247.50" width="12.70" height="2.60" rx="1.30" fill="#000" opacity="0.62" filter="url(#bl)" transform="rotate(3 306.30 248.80)"/>
<rect x="316.70" y="247.70" width="13.60" height="5.20" rx="2.00" fill="#000" opacity="0.138" filter="url(#bl2)" transform="rotate(3 323.50 250.30)"/>
<rect x="316.40" y="249.00" width="14.20" height="2.60" rx="1.30" fill="#000" opacity="0.55" filter="url(#bl)" transform="rotate(3 323.50 250.30)"/>
<rect x="334.60" y="248.80" width="12.80" height="5.20" rx="2.00" fill="#000" opacity="0.155" filter="url(#bl2)" transform="rotate(3 341.00 251.40)"/>
<rect x="334.30" y="250.10" width="13.40" height="2.60" rx="1.30" fill="#000" opacity="0.62" filter="url(#bl)" transform="rotate(3 341.00 251.40)"/>
<rect x="351.70" y="249.60" width="14.20" height="5.20" rx="2.00" fill="#000" opacity="0.170" filter="url(#bl2)" transform="rotate(3 358.80 252.20)"/>
<rect x="351.40" y="250.90" width="14.80" height="2.60" rx="1.30" fill="#000" opacity="0.68" filter="url(#bl)" transform="rotate(3 358.80 252.20)"/>
<rect x="369.35" y="249.80" width="13.70" height="6.00" rx="2.00" fill="#000" opacity="0.205" filter="url(#bl2)" transform="rotate(3 376.20 252.80)"/>
<rect x="369.05" y="251.30" width="14.30" height="3.00" rx="1.50" fill="#000" opacity="0.82" filter="url(#bl)" transform="rotate(3 376.20 252.80)"/>
<rect x="385.90" y="249.80" width="14.20" height="6.00" rx="2.00" fill="#000" opacity="0.205" filter="url(#bl2)" transform="rotate(3 393.00 252.80)"/>
<rect x="385.60" y="251.30" width="14.80" height="3.00" rx="1.50" fill="#000" opacity="0.82" filter="url(#bl)" transform="rotate(3 393.00 252.80)"/>
<rect x="403.60" y="249.10" width="13.60" height="5.20" rx="2.00" fill="#000" opacity="0.170" filter="url(#bl2)" transform="rotate(3 410.40 251.70)"/>
<rect x="403.30" y="250.40" width="14.20" height="2.60" rx="1.30" fill="#000" opacity="0.68" filter="url(#bl)" transform="rotate(3 410.40 251.70)"/>
<rect x="421.50" y="248.20" width="14.80" height="5.20" rx="2.00" fill="#000" opacity="0.155" filter="url(#bl2)" transform="rotate(3 428.90 250.80)"/>
<rect x="421.20" y="249.50" width="15.40" height="2.60" rx="1.30" fill="#000" opacity="0.62" filter="url(#bl)" transform="rotate(3 428.90 250.80)"/>
<rect x="297.90" y="242.70" width="141.40" height="17.30" fill="none" stroke="#1a1a1a" stroke-width="1.15"/>
<text x="443.00" y="200.70" font-size="8.2" textLength="54.68" lengthAdjust="spacingAndGlyphs" fill="#111">Syk-p-Y525/526</text>
<text x="442.88" y="227.00" font-size="8.2" textLength="64.93" lengthAdjust="spacingAndGlyphs" fill="#111">p-Tyr (FcR &#947;&#8211;chain)</text>
<text x="442.78" y="255.20" font-size="8.2" textLength="25.12" lengthAdjust="spacingAndGlyphs" fill="#111">14-3-3&#950;</text>
<text x="68.34" y="310.00" font-size="8.2" textLength="26.26" lengthAdjust="spacingAndGlyphs" fill="#111">Control</text>
<text x="138.40" y="310.00" font-size="8.2" textLength="31.24" lengthAdjust="spacingAndGlyphs" fill="#111">Patient 1</text>
<line x1="47.7" y1="314.3" x2="115.1" y2="314.3" stroke="#444" stroke-width="1"/>
<line x1="121" y1="314.0" x2="188.6" y2="314.0" stroke="#444" stroke-width="1"/>
<text x="12.97" y="317.60" font-size="8.2" textLength="30.34" lengthAdjust="spacingAndGlyphs" fill="#111">Cvx (pM)</text>
<text x="52.55" y="325.10" font-size="8.2" textLength="4.10" lengthAdjust="spacingAndGlyphs" fill="#111">0</text>
<text x="68.36" y="325.10" font-size="8.2" textLength="12.89" lengthAdjust="spacingAndGlyphs" fill="#111">200</text>
<text x="85.89" y="325.10" font-size="8.2" textLength="11.94" lengthAdjust="spacingAndGlyphs" fill="#111">400</text>
<text x="103.43" y="325.10" font-size="8.2" textLength="12.41" lengthAdjust="spacingAndGlyphs" fill="#111">800</text>
<text x="125.70" y="325.10" font-size="8.2" textLength="4.10" lengthAdjust="spacingAndGlyphs" fill="#111">0</text>
<text x="139.46" y="325.10" font-size="8.2" textLength="12.89" lengthAdjust="spacingAndGlyphs" fill="#111">200</text>
<text x="156.18" y="325.10" font-size="8.2" textLength="12.67" lengthAdjust="spacingAndGlyphs" fill="#111">400</text>
<text x="173.19" y="325.10" font-size="8.2" textLength="13.89" lengthAdjust="spacingAndGlyphs" fill="#111">800</text>
<rect x="45.20" y="331.00" width="141.40" height="13.30" fill="#f4f4f4"/>
<rect x="49.15" y="333.50" width="11.90" height="4.80" rx="2.00" fill="#000" opacity="0.199" filter="url(#bl2)"/>
<rect x="48.85" y="334.70" width="12.50" height="2.40" rx="1.20" fill="#000" opacity="0.6649999999999999" filter="url(#bl)"/>
<rect x="49.15" y="336.55" width="11.90" height="3.60" rx="1.80" fill="#000" opacity="0.088" filter="url(#bl2)"/>
<rect x="48.85" y="337.45" width="12.50" height="1.80" rx="0.90" fill="#000" opacity="0.17600000000000002" filter="url(#bl)"/>
<rect x="49.15" y="338.75" width="11.90" height="3.60" rx="1.80" fill="#000" opacity="0.062" filter="url(#bl2)"/>
<rect x="48.85" y="339.65" width="12.50" height="1.80" rx="0.90" fill="#000" opacity="0.154" filter="url(#bl)"/>
<rect x="49.15" y="340.50" width="11.90" height="2.80" rx="1.40" fill="#000" opacity="0.020" filter="url(#bl2)"/>
<rect x="48.85" y="341.20" width="12.50" height="1.40" rx="0.70" fill="#000" opacity="0.099" filter="url(#bl)"/>
<rect x="68.65" y="332.40" width="11.90" height="4.80" rx="2.00" fill="#000" opacity="0.271" filter="url(#bl2)"/>
<rect x="68.35" y="333.60" width="12.50" height="2.40" rx="1.20" fill="#000" opacity="0.9025" filter="url(#bl)"/>
<rect x="68.65" y="336.00" width="11.90" height="3.60" rx="1.80" fill="#000" opacity="0.200" filter="url(#bl2)"/>
<rect x="68.35" y="336.90" width="12.50" height="1.80" rx="0.90" fill="#000" opacity="0.4" filter="url(#bl)"/>
<rect x="68.65" y="338.20" width="11.90" height="3.60" rx="1.80" fill="#000" opacity="0.140" filter="url(#bl2)"/>
<rect x="68.35" y="339.10" width="12.50" height="1.80" rx="0.90" fill="#000" opacity="0.35" filter="url(#bl)"/>
<rect x="68.65" y="340.50" width="11.90" height="2.80" rx="1.40" fill="#000" opacity="0.045" filter="url(#bl2)"/>
<rect x="68.35" y="341.20" width="12.50" height="1.40" rx="0.70" fill="#000" opacity="0.225" filter="url(#bl)"/>
<rect x="85.60" y="332.10" width="12.40" height="4.80" rx="2.00" fill="#000" opacity="0.271" filter="url(#bl2)"/>
<rect x="85.30" y="333.30" width="13.00" height="2.40" rx="1.20" fill="#000" opacity="0.9025" filter="url(#bl)"/>
<rect x="85.60" y="335.85" width="12.40" height="3.60" rx="1.80" fill="#000" opacity="0.200" filter="url(#bl2)"/>
<rect x="85.30" y="336.75" width="13.00" height="1.80" rx="0.90" fill="#000" opacity="0.4" filter="url(#bl)"/>
<rect x="85.60" y="338.05" width="12.40" height="3.60" rx="1.80" fill="#000" opacity="0.140" filter="url(#bl2)"/>
<rect x="85.30" y="338.95" width="13.00" height="1.80" rx="0.90" fill="#000" opacity="0.35" filter="url(#bl)"/>
<rect x="85.60" y="340.50" width="12.40" height="2.80" rx="1.40" fill="#000" opacity="0.045" filter="url(#bl2)"/>
<rect x="85.30" y="341.20" width="13.00" height="1.40" rx="0.70" fill="#000" opacity="0.225" filter="url(#bl)"/>
<rect x="103.60" y="332.10" width="12.40" height="4.80" rx="2.00" fill="#000" opacity="0.262" filter="url(#bl2)"/>
<rect x="103.30" y="333.30" width="13.00" height="2.40" rx="1.20" fill="#000" opacity="0.874" filter="url(#bl)"/>
<rect x="103.60" y="335.85" width="12.40" height="3.60" rx="1.80" fill="#000" opacity="0.180" filter="url(#bl2)"/>
<rect x="103.30" y="336.75" width="13.00" height="1.80" rx="0.90" fill="#000" opacity="0.36000000000000004" filter="url(#bl)"/>
<rect x="103.60" y="338.05" width="12.40" height="3.60" rx="1.80" fill="#000" opacity="0.126" filter="url(#bl2)"/>
<rect x="103.30" y="338.95" width="13.00" height="1.80" rx="0.90" fill="#000" opacity="0.315" filter="url(#bl)"/>
<rect x="103.60" y="340.50" width="12.40" height="2.80" rx="1.40" fill="#000" opacity="0.041" filter="url(#bl2)"/>
<rect x="103.30" y="341.20" width="13.00" height="1.40" rx="0.70" fill="#000" opacity="0.2025" filter="url(#bl)"/>
<rect x="122.35" y="332.10" width="10.90" height="4.80" rx="2.00" fill="#000" opacity="0.228" filter="url(#bl2)"/>
<rect x="122.05" y="333.30" width="11.50" height="2.40" rx="1.20" fill="#000" opacity="0.76" filter="url(#bl)"/>
<rect x="122.35" y="335.85" width="10.90" height="3.60" rx="1.80" fill="#000" opacity="0.168" filter="url(#bl2)"/>
<rect x="122.05" y="336.75" width="11.50" height="1.80" rx="0.90" fill="#000" opacity="0.336" filter="url(#bl)"/>
<rect x="122.35" y="338.05" width="10.90" height="3.60" rx="1.80" fill="#000" opacity="0.118" filter="url(#bl2)"/>
<rect x="122.05" y="338.95" width="11.50" height="1.80" rx="0.90" fill="#000" opacity="0.294" filter="url(#bl)"/>
<rect x="122.35" y="340.50" width="10.90" height="2.80" rx="1.40" fill="#000" opacity="0.038" filter="url(#bl2)"/>
<rect x="122.05" y="341.20" width="11.50" height="1.40" rx="0.70" fill="#000" opacity="0.189" filter="url(#bl)"/>
<rect x="139.40" y="333.10" width="11.40" height="4.80" rx="2.00" fill="#000" opacity="0.228" filter="url(#bl2)"/>
<rect x="139.10" y="334.30" width="12.00" height="2.40" rx="1.20" fill="#000" opacity="0.76" filter="url(#bl)"/>
<rect x="139.40" y="336.35" width="11.40" height="3.60" rx="1.80" fill="#000" opacity="0.180" filter="url(#bl2)"/>
<rect x="139.10" y="337.25" width="12.00" height="1.80" rx="0.90" fill="#000" opacity="0.36000000000000004" filter="url(#bl)"/>
<rect x="139.40" y="338.55" width="11.40" height="3.60" rx="1.80" fill="#000" opacity="0.126" filter="url(#bl2)"/>
<rect x="139.10" y="339.45" width="12.00" height="1.80" rx="0.90" fill="#000" opacity="0.315" filter="url(#bl)"/>
<rect x="139.40" y="340.50" width="11.40" height="2.80" rx="1.40" fill="#000" opacity="0.041" filter="url(#bl2)"/>
<rect x="139.10" y="341.20" width="12.00" height="1.40" rx="0.70" fill="#000" opacity="0.2025" filter="url(#bl)"/>
<rect x="156.85" y="333.60" width="11.90" height="4.80" rx="2.00" fill="#000" opacity="0.271" filter="url(#bl2)"/>
<rect x="156.55" y="334.80" width="12.50" height="2.40" rx="1.20" fill="#000" opacity="0.9025" filter="url(#bl)"/>
<rect x="156.85" y="336.60" width="11.90" height="3.60" rx="1.80" fill="#000" opacity="0.200" filter="url(#bl2)"/>
<rect x="156.55" y="337.50" width="12.50" height="1.80" rx="0.90" fill="#000" opacity="0.4" filter="url(#bl)"/>
<rect x="156.85" y="338.80" width="11.90" height="3.60" rx="1.80" fill="#000" opacity="0.140" filter="url(#bl2)"/>
<rect x="156.55" y="339.70" width="12.50" height="1.80" rx="0.90" fill="#000" opacity="0.35" filter="url(#bl)"/>
<rect x="156.85" y="340.50" width="11.90" height="2.80" rx="1.40" fill="#000" opacity="0.045" filter="url(#bl2)"/>
<rect x="156.55" y="341.20" width="12.50" height="1.40" rx="0.70" fill="#000" opacity="0.225" filter="url(#bl)"/>
<rect x="174.40" y="334.60" width="10.40" height="4.80" rx="2.00" fill="#000" opacity="0.228" filter="url(#bl2)"/>
<rect x="174.10" y="335.80" width="11.00" height="2.40" rx="1.20" fill="#000" opacity="0.76" filter="url(#bl)"/>
<rect x="174.40" y="337.10" width="10.40" height="3.60" rx="1.80" fill="#000" opacity="0.152" filter="url(#bl2)"/>
<rect x="174.10" y="338.00" width="11.00" height="1.80" rx="0.90" fill="#000" opacity="0.30400000000000005" filter="url(#bl)"/>
<rect x="174.40" y="339.30" width="10.40" height="3.60" rx="1.80" fill="#000" opacity="0.106" filter="url(#bl2)"/>
<rect x="174.10" y="340.20" width="11.00" height="1.80" rx="0.90" fill="#000" opacity="0.26599999999999996" filter="url(#bl)"/>
<rect x="174.40" y="340.50" width="10.40" height="2.80" rx="1.40" fill="#000" opacity="0.034" filter="url(#bl2)"/>
<rect x="174.10" y="341.20" width="11.00" height="1.40" rx="0.70" fill="#000" opacity="0.171" filter="url(#bl)"/>
<rect x="45.40" y="331.00" width="141.20" height="12.80" fill="none" stroke="#1a1a1a" stroke-width="1.15"/>
<rect x="45.20" y="352.60" width="141.40" height="14.00" fill="#f8f8f8"/>
<rect x="47.40" y="358.80" width="12.40" height="4.80" rx="2.00" fill="#000" opacity="0.234" filter="url(#bl2)"/>
<rect x="47.10" y="360.00" width="13.00" height="2.40" rx="1.20" fill="#000" opacity="0.78" filter="url(#bl)"/>
<rect x="65.20" y="358.80" width="12.40" height="4.80" rx="2.00" fill="#000" opacity="0.234" filter="url(#bl2)"/>
<rect x="64.90" y="360.00" width="13.00" height="2.40" rx="1.20" fill="#000" opacity="0.78" filter="url(#bl)"/>
<rect x="83.00" y="358.80" width="12.40" height="4.80" rx="2.00" fill="#000" opacity="0.234" filter="url(#bl2)"/>
<rect x="82.70" y="360.00" width="13.00" height="2.40" rx="1.20" fill="#000" opacity="0.78" filter="url(#bl)"/>
<rect x="101.10" y="358.80" width="12.40" height="4.80" rx="2.00" fill="#000" opacity="0.234" filter="url(#bl2)"/>
<rect x="100.80" y="360.00" width="13.00" height="2.40" rx="1.20" fill="#000" opacity="0.78" filter="url(#bl)"/>
<rect x="118.10" y="358.80" width="12.40" height="4.80" rx="2.00" fill="#000" opacity="0.234" filter="url(#bl2)"/>
<rect x="117.80" y="360.00" width="13.00" height="2.40" rx="1.20" fill="#000" opacity="0.78" filter="url(#bl)"/>
<rect x="135.30" y="358.80" width="12.40" height="4.80" rx="2.00" fill="#000" opacity="0.234" filter="url(#bl2)"/>
<rect x="135.00" y="360.00" width="13.00" height="2.40" rx="1.20" fill="#000" opacity="0.78" filter="url(#bl)"/>
<rect x="153.10" y="358.80" width="12.40" height="4.80" rx="2.00" fill="#000" opacity="0.234" filter="url(#bl2)"/>
<rect x="152.80" y="360.00" width="13.00" height="2.40" rx="1.20" fill="#000" opacity="0.78" filter="url(#bl)"/>
<rect x="170.10" y="358.80" width="12.40" height="4.80" rx="2.00" fill="#000" opacity="0.234" filter="url(#bl2)"/>
<rect x="169.80" y="360.00" width="13.00" height="2.40" rx="1.20" fill="#000" opacity="0.78" filter="url(#bl)"/>
<rect x="45.40" y="352.70" width="141.20" height="13.80" fill="none" stroke="#1a1a1a" stroke-width="1.15"/>
<text x="198.32" y="336.40" font-size="8.2" textLength="39.56" lengthAdjust="spacingAndGlyphs" fill="#111">Lyn-p-Y396</text>
<text x="192.66" y="344.50" font-size="8.2" textLength="51.77" lengthAdjust="spacingAndGlyphs" fill="#111">(activation Tyr)</text>
<text x="191.26" y="363.30" font-size="8.2" textLength="25.63" lengthAdjust="spacingAndGlyphs" fill="#111">14-3-3&#950;</text>
<line x1="332.65" y1="276.1" x2="332.65" y2="369.6" stroke="#111" stroke-width="1"/>
<line x1="332.65" y1="369.6" x2="460.5" y2="369.6" stroke="#111" stroke-width="1"/>
<line x1="329.34999999999997" y1="369.60" x2="332.65" y2="369.60" stroke="#111" stroke-width="0.9"/>
<text x="321.86" y="372.70" font-size="7.8" textLength="4.19" lengthAdjust="spacingAndGlyphs" fill="#111">0</text>
<line x1="329.34999999999997" y1="339.35" x2="332.65" y2="339.35" stroke="#111" stroke-width="0.9"/>
<text x="321.51" y="342.45" font-size="7.8" textLength="4.64" lengthAdjust="spacingAndGlyphs" fill="#111">1</text>
<line x1="329.34999999999997" y1="309.10" x2="332.65" y2="309.10" stroke="#111" stroke-width="0.9"/>
<text x="321.75" y="312.20" font-size="7.8" textLength="4.39" lengthAdjust="spacingAndGlyphs" fill="#111">2</text>
<line x1="329.34999999999997" y1="278.85" x2="332.65" y2="278.85" stroke="#111" stroke-width="0.9"/>
<text x="321.86" y="281.95" font-size="7.8" textLength="4.22" lengthAdjust="spacingAndGlyphs" fill="#111">3</text>
<line x1="332.65" y1="369.6" x2="332.65" y2="372.40000000000003" stroke="#111" stroke-width="0.9"/>
<text x="330.56" y="383.10" font-size="7.8" textLength="4.07" lengthAdjust="spacingAndGlyphs" fill="#111">0</text>
<line x1="363.00" y1="369.6" x2="363.00" y2="372.40000000000003" stroke="#111" stroke-width="0.9"/>
<text x="356.57" y="383.10" font-size="7.8" textLength="12.57" lengthAdjust="spacingAndGlyphs" fill="#111">200</text>
<line x1="393.35" y1="369.6" x2="393.35" y2="372.40000000000003" stroke="#111" stroke-width="0.9"/>
<text x="387.08" y="383.10" font-size="7.8" textLength="12.46" lengthAdjust="spacingAndGlyphs" fill="#111">400</text>
<line x1="423.70" y1="369.6" x2="423.70" y2="372.40000000000003" stroke="#111" stroke-width="0.9"/>
<text x="417.16" y="383.10" font-size="7.8" textLength="12.89" lengthAdjust="spacingAndGlyphs" fill="#111">600</text>
<line x1="454.05" y1="369.6" x2="454.05" y2="372.40000000000003" stroke="#111" stroke-width="0.9"/>
<text x="447.72" y="383.10" font-size="7.8" textLength="12.83" lengthAdjust="spacingAndGlyphs" fill="#111">800</text>
<text x="374.38" y="396.70" font-size="9.3" textLength="37.34" lengthAdjust="spacingAndGlyphs" fill="#111">Cvx (pM)</text>
<text transform="translate(306.70,375.14) rotate(-90)" font-size="9.6" textLength="105.62" lengthAdjust="spacingAndGlyphs" fill="#111">Relative phosphorylation</text>
<text transform="translate(317.70,364.45) rotate(-90)" font-size="9.6" textLength="86.16" lengthAdjust="spacingAndGlyphs" fill="#111">of Lyn activation Tyr</text>
<line x1="363.00" y1="303.05" x2="363.00" y2="290.95" stroke="#333" stroke-width="1"/>
<line x1="359.70" y1="290.95" x2="366.30" y2="290.95" stroke="#333" stroke-width="1"/>
<line x1="393.35" y1="290.95" x2="393.35" y2="278.85" stroke="#333" stroke-width="1"/>
<line x1="390.05" y1="278.85" x2="396.65" y2="278.85" stroke="#333" stroke-width="1"/>
<line x1="454.05" y1="312.12" x2="454.05" y2="306.08" stroke="#333" stroke-width="1"/>
<line x1="450.75" y1="306.08" x2="457.35" y2="306.08" stroke="#333" stroke-width="1"/>
<line x1="332.65" y1="330.28" x2="332.65" y2="318.18" stroke="#333" stroke-width="1"/>
<line x1="329.35" y1="318.18" x2="335.95" y2="318.18" stroke="#333" stroke-width="1"/>
<line x1="363.00" y1="324.83" x2="363.00" y2="312.43" stroke="#333" stroke-width="1"/>
<line x1="359.70" y1="312.43" x2="366.30" y2="312.43" stroke="#333" stroke-width="1"/>
<line x1="454.05" y1="345.40" x2="454.05" y2="342.98" stroke="#333" stroke-width="1"/>
<line x1="450.75" y1="342.98" x2="457.35" y2="342.98" stroke="#333" stroke-width="1"/>
<polyline points="332.65,330.28 363.00,324.83 393.35,336.63 454.05,345.40" fill="none" stroke="#34538a" stroke-width="1.25" stroke-dasharray="4.2,2.0"/>
<polyline points="332.65,339.35 363.00,303.05 393.35,290.95 454.05,312.12" fill="none" stroke="#b0173f" stroke-width="1.3"/>
<circle cx="332.65" cy="330.28" r="1.75" fill="#fff" stroke="#34538a" stroke-width="1.0"/>
<circle cx="363.00" cy="324.83" r="1.75" fill="#fff" stroke="#34538a" stroke-width="1.0"/>
<circle cx="393.35" cy="336.63" r="1.75" fill="#fff" stroke="#34538a" stroke-width="1.0"/>
<circle cx="454.05" cy="345.40" r="1.75" fill="#fff" stroke="#34538a" stroke-width="1.0"/>
<circle cx="332.65" cy="339.35" r="2.15" fill="#b0173f"/>
<circle cx="363.00" cy="303.05" r="2.15" fill="#b0173f"/>
<circle cx="393.35" cy="290.95" r="2.15" fill="#b0173f"/>
<circle cx="454.05" cy="312.12" r="2.15" fill="#b0173f"/>
<text x="393.4" y="279.0" font-size="7" text-anchor="middle" fill="#111" >*</text>
<text x="454.0" y="305.2" font-size="7" text-anchor="middle" fill="#111" >**</text>
<text x="412.97" y="295.60" font-size="8.2" textLength="24.39" lengthAdjust="spacingAndGlyphs" fill="#111">Control</text>
<text x="410.56" y="335.70" font-size="8.2" textLength="28.44" lengthAdjust="spacingAndGlyphs" fill="#111">Patient 1</text>
</svg></body></html>
